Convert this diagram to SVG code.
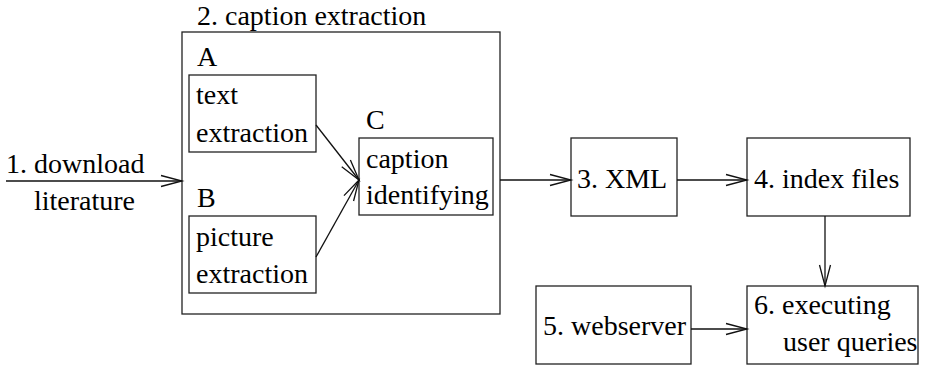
<svg xmlns="http://www.w3.org/2000/svg" width="927" height="366" viewBox="0 0 927 366">
<style>
  .box { fill: #fff; stroke: #222; stroke-width: 1.3; }
  .c { fill: none; stroke: #111; stroke-width: 1.3; marker-end: url(#arr); }
</style>
<defs>
  <marker id="arr" markerUnits="userSpaceOnUse" viewBox="-24 -7 26 14" refX="0" refY="0" markerWidth="26" markerHeight="14" orient="auto" overflow="visible">
    <path d="M-21,-5.5 L0,0 L-21,5.5" fill="none" stroke="#111" stroke-width="1.3"/>
  </marker>
</defs>
<g id="n1">
  <text x="6" y="173" font-family="Liberation Serif" font-size="28">1. download</text>
  <text x="34" y="210" font-family="Liberation Serif" font-size="28">literature</text>
</g>
<g id="n2">
  <rect class="box" x="182" y="32" width="318" height="282"/>
  <text x="197" y="25" font-family="Liberation Serif" font-size="28">2. caption extraction</text>
</g>
<g id="nA">
  <rect class="box" x="189" y="75" width="127" height="77"/>
  <text x="197" y="66" font-family="Liberation Serif" font-size="28">A</text>
  <text x="196" y="104" font-family="Liberation Serif" font-size="28">text</text>
  <text x="196" y="142" font-family="Liberation Serif" font-size="28">extraction</text>
</g>
<g id="nB">
  <rect class="box" x="189" y="216" width="127" height="77"/>
  <text x="197" y="207" font-family="Liberation Serif" font-size="28">B</text>
  <text x="196" y="246" font-family="Liberation Serif" font-size="28">picture</text>
  <text x="196" y="283" font-family="Liberation Serif" font-size="28">extraction</text>
</g>
<g id="nC">
  <rect class="box" x="359" y="138" width="134" height="77"/>
  <text x="366" y="129" font-family="Liberation Serif" font-size="28">C</text>
  <text x="366" y="168" font-family="Liberation Serif" font-size="28">caption</text>
  <text x="366" y="204" font-family="Liberation Serif" font-size="28">identifying</text>
</g>
<g id="n3">
  <rect class="box" x="571" y="138" width="106" height="78"/>
  <text x="577" y="188" font-family="Liberation Serif" font-size="28">3. XML</text>
</g>
<g id="n4">
  <rect class="box" x="747" y="138" width="163" height="78"/>
  <text x="754" y="188" font-family="Liberation Serif" font-size="28">4. index files</text>
</g>
<g id="n5">
  <rect class="box" x="536" y="286" width="155" height="78"/>
  <text x="543" y="335" font-family="Liberation Serif" font-size="28">5. webserver</text>
</g>
<g id="n6">
  <rect class="box" x="747" y="286" width="171" height="78"/>
  <text x="754" y="314" font-family="Liberation Serif" font-size="28">6. executing</text>
  <text x="783" y="351" font-family="Liberation Serif" font-size="28">user queries</text>
</g>
<g id="connectors">
  <path class="c" d="M6,181 L182,181"/>
  <path class="c" d="M316,125 L359,180"/>
  <path class="c" d="M316,257 L359,180"/>
  <path class="c" d="M500,180 L571,180"/>
  <path class="c" d="M677,180 L747,180"/>
  <path class="c" d="M825,216 L825,286"/>
  <path class="c" d="M691,329 L747,329"/>
</g>
</svg>
